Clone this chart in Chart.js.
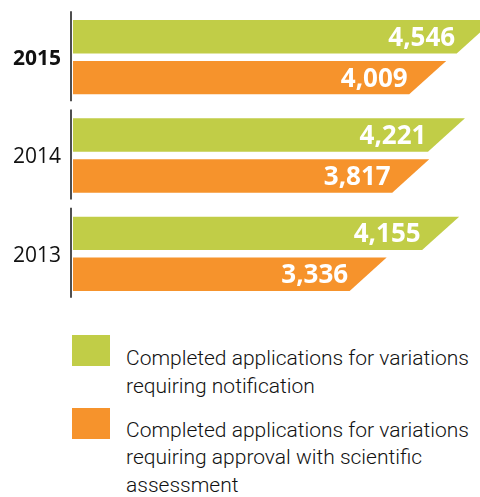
<!DOCTYPE html>
<html>
<head>
<meta charset="utf-8">
<script src="https://cdn.jsdelivr.net/npm/chart.js@4/dist/chart.umd.min.js"></script>
<style>
  body { margin: 0; background: #fff; width: 480px; height: 497px; overflow: hidden; font-family: "Open Sans", sans-serif; }
  #wrap { position: relative; width: 480px; height: 310px; }
  .legend { position: absolute; left: 72px; width: 408px; }
  .legend .box { position: absolute; left: 0; width: 38px; height: 31px; }
  .legend .txt { position: absolute; left: 54px; top: 10px; width: 354px; font-family: Roboto, sans-serif; font-weight: 300; font-size: 21px; line-height: 27.5px; color: #111; }
</style>
</head>
<body>
<div id="wrap"><canvas id="myChart" width="480" height="310"></canvas></div>
<div class="legend" style="top:335px"><div class="box" style="background:#C1CD47"></div><div class="txt">Completed applications for variations requiring notification</div></div>
<div class="legend" style="top:408px"><div class="box" style="background:#F6932C"></div><div class="txt" style="top:8.5px">Completed applications for variations requiring approval with scientific assessment</div></div>
<script>
// data
const years = ["2015", "2014", "2013"];
const notification = [4546, 4221, 4155];
const approval = [4009, 3817, 3336];

const green = "#C1CD47";
const orange = "#F6932C";

// bars with slanted right ends + white value labels
const slantBars = {
  id: "slantBars",
  beforeDatasetDraw() {
    return false;
  },
  afterDatasetsDraw(chart) {
    const ctx = chart.ctx;
    const yScale = chart.scales.y;

    // segmented axis line
    ctx.save();
    ctx.strokeStyle = "#222";
    ctx.lineWidth = 1.6;
    yScale.ticks.forEach((t, i) => {
      const c = yScale.getPixelForTick(i);
      ctx.beginPath();
      ctx.moveTo(71, c - 46);
      ctx.lineTo(71, c + 44);
      ctx.stroke();
    });
    ctx.restore();

    chart.data.datasets.forEach((ds, di) => {
      const meta = chart.getDatasetMeta(di);
      meta.data.forEach((el, i) => {
        const p = el.getProps(["x", "y", "base", "height"], true);
        const top = p.y - p.height / 2;
        const bot = p.y + p.height / 2;
        const s = 18.5;
        ctx.save();
        ctx.fillStyle = ds.backgroundColor;
        ctx.beginPath();
        ctx.moveTo(p.base, top);
        ctx.lineTo(p.x + s, top);
        ctx.lineTo(p.x - s, bot);
        ctx.lineTo(p.base, bot);
        ctx.closePath();
        ctx.fill();

        ctx.fillStyle = "#fff";
        ctx.font = "bold 26px 'Open Sans', sans-serif";
        ctx.textAlign = "right";
        ctx.textBaseline = "middle";
        ctx.fillText(ds.data[i].toLocaleString("en-US"), p.x - 20, p.y + 1.5);
        ctx.restore();
      });
    });
  }
};

new Chart(document.getElementById("myChart"), {
  type: "bar",
  data: {
    labels: years,
    datasets: [
      { label: "Completed applications for variations requiring notification", data: notification, backgroundColor: green },
      { label: "Completed applications for variations requiring approval with scientific assessment", data: approval, backgroundColor: orange }
    ]
  },
  options: {
    indexAxis: "y",
    responsive: false,
    animation: false,
    categoryPercentage: 0.8325,
    barPercentage: 0.817,
    layout: { padding: { top: 8, bottom: 7, left: 0, right: 0 } },
    plugins: {
      legend: { display: false },
      tooltip: { enabled: false }
    },
    scales: {
      x: { display: false, min: 0, max: 4600 },
      y: {
        grid: { display: false, drawTicks: false },
        border: { display: false },
        afterFit(scale) {
          scale.width = 73;
          scale.paddingTop = 0;
          scale.paddingBottom = 0;
        },
        ticks: {
          padding: 12,
          labelOffset: 2,
          color: "#111",
          font: (c) => ({ family: "'Open Sans', sans-serif", size: 21, weight: c.index === 0 ? "bold" : "normal" })
        }
      }
    }
  },
  plugins: [slantBars]
});
</script>
</body>
</html>
